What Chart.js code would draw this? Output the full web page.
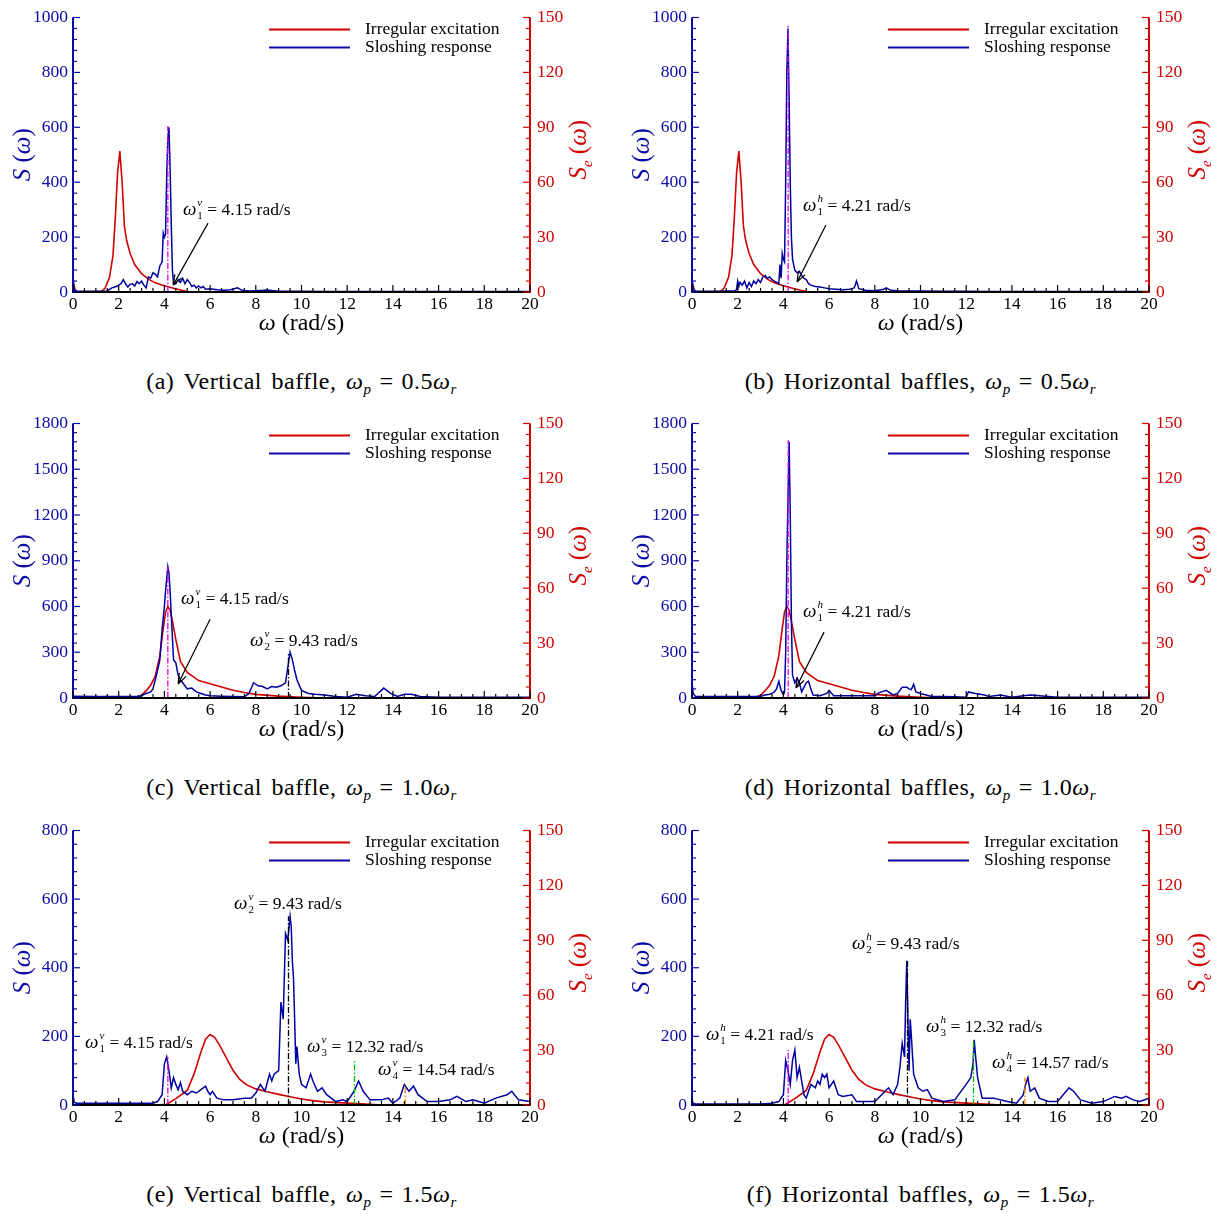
<!DOCTYPE html>
<html>
<head>
<meta charset="utf-8">
<script src="https://cdn.jsdelivr.net/npm/chart.js@4.4.0/dist/chart.umd.min.js"></script>
<style>
  body { margin: 0; background: #fff; width: 1225px; height: 1216px; position: relative; overflow: hidden; }
  .panel { position: absolute; width: 606px; height: 406px; }
  .panel canvas { position: absolute; left: 0; top: 0; }
  .cap { position: absolute; left: 0; top: 368px; width: 603px; text-align: center;
         font-family: 'Liberation Serif', serif; font-size: 24px; color: #000; white-space: nowrap;
         letter-spacing: 0.5px; word-spacing: 3px; }
  .cap sub { font-size: 15px; vertical-align: -5px; }
  .cap .eq { margin: 0 8px; }
</style>
</head>
<body>
<script>
// ---- excitation spectra S_e(w), right axis units ----
const excFreq1 = [0, 0.1, 0.2, 1.2, 1.4, 1.6, 1.75, 1.85, 1.95, 2.05, 2.15, 2.25, 2.35, 2.5, 2.7, 3.0, 3.3, 3.6, 4.0, 4.4, 4.8, 5.1, 20];
const excVal1  = [6, 1, 0, 0, 2, 8, 20, 40, 65, 77, 60, 36, 28, 21, 15, 10, 7, 5, 3.4, 2, 0.8, 0, 0];

const excFreq2 = [0, 2.6, 2.8, 3.0, 3.2, 3.4, 3.6, 3.8, 3.95, 4.05, 4.15, 4.25, 4.35, 4.5, 4.7, 5.0, 5.5, 6.0, 6.5, 7.0, 7.5, 8.0, 9.0, 10.0, 11.0, 20];
const excVal2  = [0, 0, 0.5, 1.5, 4, 7, 12, 23, 38, 47, 50, 48, 42, 32, 20, 14, 9.5, 7.8, 6, 4.2, 3, 2, 1, 0.4, 0, 0];

const excFreq3 = [0, 4.05, 4.5, 5.0, 5.3, 5.6, 5.8, 6.0, 6.2, 6.4, 6.7, 7.0, 7.3, 7.6, 8.0, 8.5, 9.0, 9.5, 10.0, 10.5, 11.0, 12.0, 13.0, 13.5, 20];
const excVal3  = [0, 0, 3.5, 8, 17, 29, 36, 38.5, 37, 33, 26, 19, 14, 11, 8.8, 7.2, 5.8, 4.5, 3.3, 2.4, 1.7, 1, 0.4, 0, 0];

// ---- sloshing response spectra S(w), left axis units ----
const freqA = [0, 0.05, 0.15, 0.5, 1.0, 1.5, 1.7, 1.9, 2.0, 2.1, 2.2, 2.3, 2.4, 2.5, 2.6, 2.7, 2.8, 2.9, 3.0, 3.1, 3.2, 3.3, 3.4, 3.5, 3.6, 3.7, 3.8, 3.9, 3.95, 4.0, 4.05, 4.1, 4.15, 4.2, 4.25, 4.3, 4.35, 4.4, 4.5, 4.6, 4.7, 4.8, 4.9, 5.0, 5.1, 5.2, 5.3, 5.4, 5.5, 5.6, 5.7, 5.8, 6.0, 6.3, 6.6, 6.9, 7.2, 7.4, 7.7, 8.0, 8.5, 9.0, 10, 11, 12, 13, 14, 15, 16, 17, 18, 19, 20];
const respA = [50, 10, 3, 3, 3, 4, 15, 20, 25, 30, 45, 30, 18, 28, 30, 22, 38, 30, 40, 25, 15, 55, 50, 70, 65, 55, 95, 110, 215, 200, 210, 420, 560, 600, 450, 250, 80, 30, 30, 45, 35, 50, 30, 45, 35, 20, 25, 15, 22, 15, 20, 10, 12, 8, 6, 8, 15, 6, 4, 5, 7, 3, 3, 2, 2, 2, 2, 2, 2, 2, 2, 2, 2];

const freqB = [0, 0.05, 0.15, 1.0, 1.9, 1.95, 2.0, 2.05, 2.1, 2.2, 2.3, 2.4, 2.5, 2.6, 2.7, 2.8, 2.9, 3.0, 3.1, 3.2, 3.3, 3.4, 3.5, 3.6, 3.7, 3.8, 3.85, 3.9, 3.95, 4.0, 4.05, 4.1, 4.15, 4.2, 4.25, 4.3, 4.35, 4.4, 4.5, 4.6, 4.7, 4.8, 4.9, 5.0, 5.1, 5.2, 5.4, 5.6, 5.8, 6.0, 6.3, 6.6, 6.9, 7.1, 7.2, 7.3, 7.6, 8.0, 8.4, 8.5, 8.7, 9.0, 10, 11, 12, 13, 14, 15, 16, 17, 18, 19, 20];
const respB = [50, 10, 3, 3, 5, 10, 40, 20, 35, 25, 40, 15, 35, 20, 40, 30, 45, 35, 55, 60, 50, 55, 45, 40, 35, 30, 100, 50, 140, 120, 110, 400, 800, 960, 700, 400, 200, 120, 80, 70, 75, 60, 50, 45, 30, 25, 20, 18, 15, 12, 10, 8, 10, 15, 40, 12, 6, 5, 10, 15, 6, 5, 4, 3, 3, 2, 2, 2, 2, 2, 2, 2, 2];

const freqC = [0, 1, 2, 2.8, 3.0, 3.2, 3.4, 3.5, 3.6, 3.7, 3.8, 3.9, 4.0, 4.05, 4.1, 4.15, 4.2, 4.25, 4.3, 4.4, 4.5, 4.6, 4.7, 4.8, 5.0, 5.2, 5.4, 5.6, 5.8, 6.0, 6.5, 7.0, 7.5, 7.7, 7.9, 8.1, 8.3, 8.5, 8.7, 8.9, 9.1, 9.3, 9.4, 9.5, 9.6, 9.7, 9.8, 10.0, 10.3, 10.6, 11.0, 11.5, 12.0, 12.4, 12.8, 13.2, 13.6, 13.9, 14.2, 14.5, 14.8, 15.2, 16, 17, 18, 19, 20];
const respC = [12, 10, 10, 12, 15, 30, 40, 60, 120, 180, 250, 450, 600, 700, 780, 860, 820, 700, 550, 250, 230, 150, 120, 100, 60, 65, 40, 30, 20, 15, 12, 10, 8, 30, 100, 80, 75, 60, 75, 70, 80, 100, 200, 300, 250, 180, 120, 50, 30, 25, 20, 10, 5, 25, 15, 10, 65, 30, 10, 25, 25, 10, 5, 5, 5, 5, 5];

const freqD = [0, 0.05, 0.15, 1, 2, 2.8, 3.0, 3.2, 3.4, 3.5, 3.6, 3.7, 3.8, 3.9, 4.0, 4.05, 4.1, 4.15, 4.2, 4.25, 4.3, 4.35, 4.4, 4.5, 4.6, 4.7, 4.8, 4.9, 5.0, 5.1, 5.2, 5.3, 5.6, 5.9, 6.0, 6.2, 6.6, 7.0, 7.5, 8.0, 8.2, 8.5, 8.8, 9.0, 9.2, 9.4, 9.5, 9.6, 9.7, 9.8, 10.0, 10.5, 11, 11.5, 12, 12.1, 12.4, 12.8, 13.0, 13.5, 14, 14.5, 14.8, 15.2, 16, 17, 18, 19, 20];
const respD = [110, 30, 10, 10, 10, 10, 12, 20, 25, 30, 40, 60, 110, 50, 20, 40, 300, 900, 1300, 1680, 1200, 500, 150, 100, 130, 100, 40, 70, 100, 110, 60, 20, 15, 30, 50, 15, 15, 15, 15, 15, 35, 50, 20, 30, 70, 70, 60, 55, 90, 40, 30, 10, 10, 8, 5, 40, 30, 20, 10, 20, 5, 15, 20, 15, 5, 5, 5, 5, 5];

const freqE = [0, 0.05, 0.15, 1, 2, 3, 3.5, 3.7, 3.9, 4.0, 4.1, 4.2, 4.3, 4.4, 4.5, 4.6, 4.7, 4.8, 5.0, 5.2, 5.4, 5.6, 5.8, 5.9, 6.0, 6.1, 6.3, 6.6, 7.0, 7.5, 7.8, 8.0, 8.2, 8.4, 8.6, 8.7, 8.8, 9.0, 9.1, 9.2, 9.3, 9.4, 9.5, 9.55, 9.6, 9.65, 9.7, 9.75, 9.8, 9.9, 10.0, 10.2, 10.4, 10.5, 10.7, 10.9, 11.1, 11.5, 11.8, 12.0, 12.3, 12.5, 12.7, 13.0, 13.5, 13.8, 14.0, 14.3, 14.5, 14.7, 14.9, 15.1, 15.5, 16.0, 16.5, 16.8, 17.2, 17.5, 18.0, 18.5, 19.0, 19.2, 19.5, 20];
const respE = [30, 8, 5, 5, 5, 5, 5, 10, 30, 120, 140, 100, 50, 80, 60, 45, 65, 40, 30, 40, 35, 45, 55, 40, 30, 40, 20, 15, 15, 20, 20, 35, 60, 40, 90, 70, 90, 100, 300, 250, 500, 480, 550, 520, 420, 370, 250, 120, 170, 90, 60, 50, 90, 70, 40, 50, 30, 10, 15, 10, 40, 70, 40, 15, 15, 20, 5, 20, 60, 40, 55, 30, 10, 10, 15, 25, 10, 15, 5, 20, 30, 40, 15, 10];

const freqF = [0, 0.05, 0.15, 1, 2, 3, 3.5, 3.8, 4.0, 4.1, 4.2, 4.3, 4.4, 4.5, 4.6, 4.7, 4.8, 4.9, 5.0, 5.2, 5.4, 5.5, 5.6, 5.7, 5.8, 5.9, 6.0, 6.2, 6.4, 6.6, 7.0, 7.2, 8.0, 8.3, 8.6, 8.8, 9.0, 9.1, 9.2, 9.3, 9.35, 9.4, 9.45, 9.5, 9.55, 9.6, 9.7, 9.8, 9.9, 10.1, 10.3, 10.5, 11, 11.5, 12.0, 12.2, 12.3, 12.35, 12.4, 12.5, 12.7, 13.2, 13.8, 14.2, 14.5, 14.6, 14.7, 14.8, 15.0, 15.2, 15.6, 16.0, 16.5, 16.7, 17.0, 17.5, 18, 18.5, 18.8, 19.0, 19.3, 19.6, 20];
const respF = [15, 5, 3, 3, 3, 3, 5, 10, 30, 130, 100, 60, 130, 160, 80, 110, 70, 30, 20, 60, 50, 70, 60, 90, 80, 90, 50, 70, 30, 25, 30, 10, 10, 30, 50, 30, 60, 110, 180, 140, 300, 420, 250, 100, 250, 200, 90, 70, 50, 40, 45, 20, 10, 15, 60, 80, 120, 190, 150, 80, 20, 20, 10, 5, 30, 60, 80, 40, 50, 20, 10, 10, 50, 40, 15, 5, 10, 25, 20, 25, 15, 10, 20];

// ---- axis ticks ----
const xTicks = [0, 2, 4, 6, 8, 10, 12, 14, 16, 18, 20];
const seTicks = [0, 30, 60, 90, 120, 150];

const BLUE = '#0a0aa6';
const RED = '#d00000';
const MAGENTA = '#e600e6';
const GREEN = '#00c000';
const ORANGE = '#ff8000';
const SERIF = '"Liberation Serif", "Times New Roman", serif';

const panels = [
  { tag: 'a', name: 'Vertical baffle', wp: '0.5', left: 0, top: 0,
    freq: freqA, resp: respA, excF: excFreq1, excV: excVal1, ymax: 1000, ystep: 200, yminor: 40,
    marks: [{ x: 4.15, top: 605, color: MAGENTA }],
    labels: [{ x: 4.81, y: 302, sup: 'v', sub: '1', text: '= 4.15 rad/s' }],
    arrows: [{ x1: 5.91, y1: 251, x2: 4.38, y2: 25 }] },
  { tag: 'b', name: 'Horizontal baffles', wp: '0.5', left: 619, top: 0,
    freq: freqB, resp: respB, excF: excFreq1, excV: excVal1, ymax: 1000, ystep: 200, yminor: 40,
    marks: [{ x: 4.21, top: 970, color: MAGENTA }],
    labels: [{ x: 4.86, y: 316, sup: 'h', sub: '1', text: '= 4.21 rad/s' }],
    arrows: [{ x1: 5.86, y1: 244, x2: 4.6, y2: 36 }] },
  { tag: 'c', name: 'Vertical baffle', wp: '1.0', left: 0, top: 406,
    freq: freqC, resp: respC, excF: excFreq2, excV: excVal2, ymax: 1800, ystep: 300, yminor: 60,
    marks: [{ x: 4.15, top: 860, color: MAGENTA }, { x: 9.43, top: 300, color: '#000' }],
    labels: [{ x: 4.73, y: 655, sup: 'v', sub: '1', text: '= 4.15 rad/s' },
             { x: 7.75, y: 380, sup: 'v', sub: '2', text: '= 9.43 rad/s' }],
    arrows: [{ x1: 6.0, y1: 517, x2: 4.6, y2: 92 }] },
  { tag: 'd', name: 'Horizontal baffles', wp: '1.0', left: 619, top: 406,
    freq: freqD, resp: respD, excF: excFreq2, excV: excVal2, ymax: 1800, ystep: 300, yminor: 60,
    marks: [{ x: 4.21, top: 1690, color: MAGENTA }],
    labels: [{ x: 4.86, y: 569, sup: 'h', sub: '1', text: '= 4.21 rad/s' }],
    arrows: [{ x1: 5.78, y1: 432, x2: 4.55, y2: 65 }] },
  { tag: 'e', name: 'Vertical baffle', wp: '1.5', left: 0, top: 813,
    freq: freqE, resp: respE, excF: excFreq3, excV: excVal3, ymax: 800, ystep: 200, yminor: 40,
    marks: [{ x: 4.15, top: 140, color: MAGENTA }, { x: 9.43, top: 550, color: '#000' },
            { x: 12.32, top: 130, color: GREEN }, { x: 14.54, top: 65, color: ORANGE }],
    labels: [{ x: 0.53, y: 183, sup: 'v', sub: '1', text: '= 4.15 rad/s' },
             { x: 7.05, y: 590, sup: 'v', sub: '2', text: '= 9.43 rad/s' },
             { x: 10.24, y: 172, sup: 'v', sub: '3', text: '= 12.32 rad/s' },
             { x: 13.35, y: 105, sup: 'v', sub: '4', text: '= 14.54 rad/s' }],
    arrows: [] },
  { tag: 'f', name: 'Horizontal baffles', wp: '1.5', left: 619, top: 813,
    freq: freqF, resp: respF, excF: excFreq3, excV: excVal3, ymax: 800, ystep: 200, yminor: 40,
    marks: [{ x: 4.21, top: 160, color: MAGENTA }, { x: 9.43, top: 420, color: '#000' },
            { x: 12.32, top: 190, color: GREEN }, { x: 14.57, top: 80, color: ORANGE }],
    labels: [{ x: 0.61, y: 207, sup: 'h', sub: '1', text: '= 4.21 rad/s' },
             { x: 7.0, y: 471, sup: 'h', sub: '2', text: '= 9.43 rad/s' },
             { x: 10.24, y: 230, sup: 'h', sub: '3', text: '= 12.32 rad/s' },
             { x: 13.13, y: 125, sup: 'h', sub: '4', text: '= 14.57 rad/s' }],
    arrows: [] }
];

function toPoints(xs, ys) {
  return xs.map((x, i) => ({ x: x, y: ys[i] }));
}

// inward ticks along one axis
function drawAxisTicks(ctx, scale, max, major, minor, edge, dir, vertical, color) {
  ctx.strokeStyle = color;
  ctx.lineWidth = 1.2;
  const n = Math.round(max / minor);
  for (let i = 0; i <= n; i++) {
    const v = i * minor;
    const isMajor = Math.abs(v / major - Math.round(v / major)) < 1e-6;
    const len = isMajor ? 7 : 4;
    const p = scale.getPixelForValue(v);
    ctx.beginPath();
    if (vertical) { ctx.moveTo(edge, p); ctx.lineTo(edge + dir * len, p); }
    else { ctx.moveTo(p, edge); ctx.lineTo(p, edge + dir * len); }
    ctx.stroke();
  }
}

// rich text pieces: [text, italic, sizeScale, dy]
function drawPieces(ctx, pieces, x, y, size, color, align) {
  ctx.fillStyle = color;
  ctx.textBaseline = 'alphabetic';
  ctx.textAlign = 'left';
  let total = 0;
  const widths = pieces.map(p => {
    ctx.font = (p[1] ? 'italic ' : '') + (size * (p[2] || 1)) + 'px ' + SERIF;
    const w = ctx.measureText(p[0]).width;
    total += w;
    return w;
  });
  let cx = align === 'center' ? x - total / 2 : x;
  pieces.forEach((p, i) => {
    ctx.font = (p[1] ? 'italic ' : '') + (size * (p[2] || 1)) + 'px ' + SERIF;
    ctx.fillText(p[0], cx, y + (p[3] || 0));
    cx += widths[i];
  });
}

function drawOmegaLabel(ctx, x, y, sup, sub, text) {
  ctx.fillStyle = '#000';
  ctx.textBaseline = 'alphabetic';
  ctx.textAlign = 'left';
  ctx.font = 'italic 19px ' + SERIF;
  ctx.fillText('ω', x, y + 6);
  const w = ctx.measureText('ω').width;
  ctx.font = 'italic 11px ' + SERIF;
  ctx.fillText(sup, x + w + 1, y - 3);
  ctx.font = '11px ' + SERIF;
  ctx.fillText(sub, x + w + 1, y + 10);
  ctx.font = '17.5px ' + SERIF;
  ctx.fillText(text, x + w + 11, y + 6);
}

const decorPlugin = {
  id: 'decor',
  afterDraw(chart) {
    const p = chart.options.plugins.decor;
    const { ctx, chartArea: a, scales } = chart;
    const xs = scales.x, ys = scales.y, ys2 = scales.y2;
    ctx.save();

    // peak markers (dash-dot)
    p.marks.forEach(m => {
      const px = xs.getPixelForValue(m.x);
      ctx.strokeStyle = m.color;
      ctx.lineWidth = 1.3;
      ctx.setLineDash([6, 2, 1.5, 2]);
      ctx.beginPath();
      ctx.moveTo(px, ys.getPixelForValue(0));
      ctx.lineTo(px, ys.getPixelForValue(m.top));
      ctx.stroke();
    });
    ctx.setLineDash([]);

    // arrows
    p.arrows.forEach(r => {
      const x1 = xs.getPixelForValue(r.x1), y1 = ys.getPixelForValue(r.y1);
      const x2 = xs.getPixelForValue(r.x2), y2 = ys.getPixelForValue(r.y2);
      ctx.strokeStyle = '#000';
      ctx.lineWidth = 1.2;
      ctx.beginPath();
      ctx.moveTo(x1, y1);
      ctx.lineTo(x2, y2);
      const ang = Math.atan2(y2 - y1, x2 - x1);
      [0.35, -0.35].forEach(d => {
        ctx.moveTo(x2, y2);
        ctx.lineTo(x2 - 11 * Math.cos(ang + d), y2 - 11 * Math.sin(ang + d));
      });
      ctx.stroke();
    });

    // omega labels
    p.labels.forEach(l => {
      drawOmegaLabel(ctx, xs.getPixelForValue(l.x), ys.getPixelForValue(l.y), l.sup, l.sub, l.text);
    });

    // axis lines
    ctx.lineWidth = 2;
    ctx.strokeStyle = BLUE;
    ctx.beginPath(); ctx.moveTo(a.left, a.top); ctx.lineTo(a.left, a.bottom + 1); ctx.stroke();
    ctx.strokeStyle = RED;
    ctx.beginPath(); ctx.moveTo(a.right, a.top); ctx.lineTo(a.right, a.bottom + 1); ctx.stroke();
    ctx.strokeStyle = '#000';
    ctx.beginPath(); ctx.moveTo(a.left, a.bottom); ctx.lineTo(a.right, a.bottom); ctx.stroke();

    drawAxisTicks(ctx, ys, p.ymax, p.ystep, p.yminor, a.left, 1, true, BLUE);
    drawAxisTicks(ctx, ys2, 150, 30, 6, a.right, -1, true, RED);
    drawAxisTicks(ctx, xs, 20, 2, 0.5, a.bottom, -1, false, '#000');

    // axis titles
    drawPieces(ctx, [['ω', true], [' (rad/s)', false]], (a.left + a.right) / 2, a.bottom + 38, 24, '#000', 'center');
    const midY = (a.top + a.bottom) / 2;
    ctx.save();
    ctx.translate(a.left - 43, midY);
    ctx.rotate(-Math.PI / 2);
    drawPieces(ctx, [['S', true], [' (', false], ['ω', true], [')', false]], 0, 0, 25, BLUE, 'center');
    ctx.restore();
    ctx.save();
    ctx.translate(a.right + 56, midY - 5);
    ctx.rotate(-Math.PI / 2);
    drawPieces(ctx, [['S', true], ['e', true, 0.6, 6], [' (', false], ['ω', true], [')', false]], 0, 0, 25, RED, 'center');
    ctx.restore();

    // legend
    const lx = a.left + 196;
    [[RED, 'Irregular excitation', 12], [BLUE, 'Sloshing response', 30]].forEach(e => {
      ctx.strokeStyle = e[0];
      ctx.lineWidth = 2;
      ctx.beginPath();
      ctx.moveTo(lx, a.top + e[2]);
      ctx.lineTo(lx + 81, a.top + e[2]);
      ctx.stroke();
      ctx.fillStyle = '#000';
      ctx.font = '17.5px ' + SERIF;
      ctx.textAlign = 'left';
      ctx.textBaseline = 'middle';
      ctx.fillText(e[1], lx + 96, a.top + e[2]);
    });
    ctx.restore();
  }
};

panels.forEach(p => {
  const div = document.createElement('div');
  div.className = 'panel';
  div.style.left = p.left + 'px';
  div.style.top = p.top + 'px';
  const canvas = document.createElement('canvas');
  canvas.width = 606;
  canvas.height = 350;
  div.appendChild(canvas);
  const cap = document.createElement('div');
  cap.className = 'cap';
  cap.innerHTML = '(' + p.tag + ') ' + p.name + ', <i>ω</i><sub><i>p</i></sub><span class="eq">=</span>' + p.wp + '<i>ω</i><sub><i>r</i></sub>';
  div.appendChild(cap);
  document.body.appendChild(div);

  const yTicks = [];
  for (let v = 0; v <= p.ymax; v += p.ystep) yTicks.push(v);

  new Chart(canvas.getContext('2d'), {
    type: 'line',
    data: {
      datasets: [
        { label: 'Sloshing response', data: toPoints(p.freq, p.resp), yAxisID: 'y',
          borderColor: '#0000a0', borderWidth: 1.5, pointRadius: 0, tension: 0 },
        { label: 'Irregular excitation', data: toPoints(p.excF, p.excV), yAxisID: 'y2',
          borderColor: RED, borderWidth: 1.6, pointRadius: 0, tension: 0 }
      ]
    },
    options: {
      responsive: false,
      animation: false,
      devicePixelRatio: 1,
      layout: { padding: { top: 17, left: 0, right: 0, bottom: 0 } },
      plugins: { legend: { display: false }, tooltip: { enabled: false }, decor: p },
      scales: {
        x: {
          type: 'linear', min: 0, max: 20,
          afterBuildTicks: s => { s.ticks = xTicks.map(v => ({ value: v })); },
          afterFit: s => { s.height = 58; },
          grid: { display: false, drawTicks: false },
          border: { display: false },
          ticks: { color: '#000', padding: 2, maxRotation: 0, autoSkip: false,
                   callback: v => String(v), font: { family: SERIF, size: 17.5 } }
        },
        y: {
          position: 'left', min: 0, max: p.ymax,
          afterBuildTicks: s => { s.ticks = yTicks.map(v => ({ value: v })); },
          afterFit: s => { s.width = 73; },
          grid: { display: false, drawTicks: false },
          border: { display: false },
          ticks: { color: BLUE, padding: 5, callback: v => String(v), font: { family: SERIF, size: 17.5 } }
        },
        y2: {
          position: 'right', min: 0, max: 150,
          afterBuildTicks: s => { s.ticks = seTicks.map(v => ({ value: v })); },
          afterFit: s => { s.width = 76; },
          grid: { display: false, drawTicks: false },
          border: { display: false },
          ticks: { color: RED, padding: 7, callback: v => String(v), font: { family: SERIF, size: 17.5 } }
        }
      }
    },
    plugins: [decorPlugin]
  });
});
</script>
</body>
</html>
